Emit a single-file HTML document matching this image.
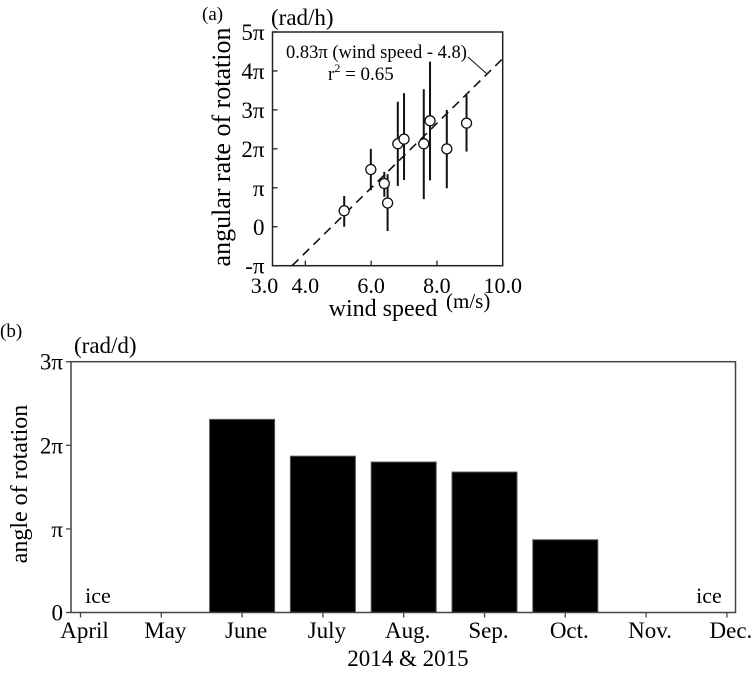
<!DOCTYPE html>
<html><head><meta charset="utf-8"><style>
body{margin:0;background:#fff;}
svg{display:block;font-family:"Liberation Serif","DejaVu Serif",serif;}
</style></head><body>
<svg width="751" height="675" viewBox="0 0 751 675">
<g id="a"></g>
<g id="b"></g>
</svg>
<script>
// Panel (a) data
const windSpeed = [5.18, 5.99, 6.40, 6.50, 6.81, 7.00, 7.60, 7.79, 8.30, 8.90];
const rateMean = [0.41, 1.47, 1.11, 0.61, 2.13, 2.25, 2.13, 2.72, 2.00, 2.66];
const rateHigh = [0.79, 2.00, 1.41, 1.35, 3.21, 3.43, 3.53, 4.24, 3.00, 3.38];
const rateLow = [0.00, 0.94, 0.77, -0.11, 1.05, 1.20, 0.71, 1.19, 0.99, 1.93];
const fitSlope = 0.83, fitOffset = 4.8;
const xTickVals = [3, 4, 6, 8, 10];
const xTickLabels = ["3.0", "4.0", "6.0", "8.0", "10.0"];
const yTickVals = [-1, 0, 1, 2, 3, 4, 5];
const yTickLabels = ["-\u03c0", "0", "\u03c0", "2\u03c0", "3\u03c0", "4\u03c0", "5\u03c0"];
// Panel (b) data
const months = ["April","May","June","July","Aug.","Sep.","Oct.","Nov.","Dec."];
const angleVals = [0, 0, 2.31, 1.87, 1.80, 1.68, 0.87, 0, 0];
const bTickVals = [0, 1, 2, 3];
const bTickLabels = ["0", "\u03c0", "2\u03c0", "3\u03c0"];

const NS = "http://www.w3.org/2000/svg";
function mk(parent, tag, attrs, text){
  const e = document.createElementNS(NS, tag);
  for (const k in attrs) e.setAttribute(k, attrs[k]);
  if (text !== undefined) e.textContent = text;
  parent.appendChild(e);
  return e;
}
// ---- Panel a ----
const A = document.getElementById('a');
const aL = 272.5, aR = 502.7, aT = 32, aB = 265.7;
const ax = v => aL + (v - 3) / 7 * (aR - aL);
const ay = v => aB - (v + 1) / 6 * (aB - aT);
let e;
e = mk(A, 'rect', {x:aL, y:aT, width:aR-aL, height:aB-aT, fill:'none', stroke:'#222', 'stroke-width':1.5});


yTickVals.forEach((v, i) => {
  e = mk(A, 'line', {x1:aL, x2:aL+5, y1:ay(v), y2:ay(v), stroke:'#222', 'stroke-width':1.3});
  
  
  e = mk(A, 'text', {x:aL-8, y:ay(v)+8, 'text-anchor':'end', 'font-size':23}, yTickLabels[i]);
  
  
});
xTickVals.forEach((v, i) => {
  if (v > 3 && v < 10) {
    e = mk(A, 'line', {x1:ax(v), x2:ax(v), y1:aB, y2:aB-5, stroke:'#222', 'stroke-width':1.3});
    
    
  }
  e = mk(A, 'text', {x:ax(v)+(v===3?-8:0), y:293, 'text-anchor':'middle', 'font-size':22}, xTickLabels[i]);
  
  
});
// fit line
const x0 = fitOffset - 1 / fitSlope;
e = mk(A, 'line', {x1:ax(x0), y1:ay(-1), x2:ax(10), y2:ay(fitSlope*(10-fitOffset)), stroke:'#111', 'stroke-width':1.6, 'stroke-dasharray':'9,6'});


windSpeed.forEach((w, i) => {
  e = mk(A, 'line', {x1:ax(w), x2:ax(w), y1:ay(rateHigh[i]), y2:ay(rateLow[i]), stroke:'#111', 'stroke-width':2});
  
  
});
windSpeed.forEach((w, i) => {
  e = mk(A, 'circle', {cx:ax(w), cy:ay(rateMean[i]), r:5, fill:'#fff', stroke:'#111', 'stroke-width':1.3});
  
  
});
e = mk(A, 'line', {x1:468, y1:57, x2:487, y2:74, stroke:'#111', 'stroke-width':1});


e = mk(A, 'text', {x:286, y:58, 'font-size':18.5}, "0.83\u03c0 (wind speed - 4.8)");


e = mk(A, 'text', {x:328, y:80, 'font-size':19});


e.innerHTML = 'r<tspan dy="-8" font-size="12">2</tspan><tspan dy="8"> = 0.65</tspan>';
e = mk(A, 'text', {x:202, y:20, 'font-size':19}, "(a)");


e = mk(A, 'text', {x:271, y:25, 'font-size':23}, "(rad/h)");


e = mk(A, 'text', {x:0, y:0, 'font-size':26, 'text-anchor':'middle', transform:'translate(230,147) rotate(-90)'}, "angular rate of rotation");


e = mk(A, 'text', {x:383, y:316, 'font-size':24, 'text-anchor':'middle'}, "wind speed");


e = mk(A, 'text', {x:446, y:308, 'font-size':21}, "(m/s)");



// ---- Panel b ----
const B = document.getElementById('b');
const bL = 71, bR = 735.5, bT = 361.7, bB = 612.5;
const bx0 = 80.5, bStep = 80.8;
const bxc = i => bx0 + i * bStep;
const by = v => bB - v / 3 * (bB - bT);
const barW = 65;
angleVals.forEach((v, i) => {
  if (v > 0) {
    e = mk(B, 'rect', {x:bxc(i)-barW/2, y:by(v), width:barW, height:bB-by(v), fill:'#000', stroke:'#555', 'stroke-width':1});
    
    
  }
});
e = mk(B, 'rect', {x:bL, y:bT, width:bR-bL, height:bB-bT, fill:'none', stroke:'#444', 'stroke-width':1.5});


bTickVals.forEach((v, i) => {
  e = mk(B, 'line', {x1:bL-5, x2:bL, y1:by(v), y2:by(v), stroke:'#444', 'stroke-width':1.3});
  
  
  e = mk(B, 'text', {x:bL-8, y:by(v)+8, 'text-anchor':'end', 'font-size':23}, bTickLabels[i]);
  
  
});
months.forEach((m, i) => {
  e = mk(B, 'line', {x1:bxc(i), x2:bxc(i), y1:bB, y2:bB+5, stroke:'#444', 'stroke-width':1.3});
  
  
  e = mk(B, 'text', {x:bxc(i)+4, y:638, 'text-anchor':'middle', 'font-size':23}, m);
  
  
});
e = mk(B, 'text', {x:98, y:603, 'text-anchor':'middle', 'font-size':22}, "ice");


e = mk(B, 'text', {x:709, y:603, 'text-anchor':'middle', 'font-size':22}, "ice");


e = mk(B, 'text', {x:408, y:666, 'text-anchor':'middle', 'font-size':23}, "2014 & 2015");


e = mk(B, 'text', {x:0, y:337, 'font-size':19}, "(b)");


e = mk(B, 'text', {x:74, y:353, 'font-size':23}, "(rad/d)");


e = mk(B, 'text', {x:0, y:0, 'font-size':24, 'text-anchor':'middle', transform:'translate(27,484) rotate(-90)'}, "angle of rotation");


</script>
</body></html>
